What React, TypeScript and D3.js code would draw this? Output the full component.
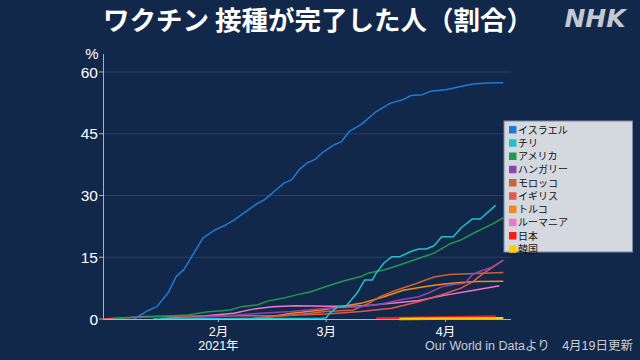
import React from "react";
import * as d3 from "d3";

type Pt = [string, number];

const countries = ["イスラエル", "チリ", "アメリカ", "ハンガリー", "モロッコ", "イギリス", "トルコ", "ルーマニア", "日本", "韓国"];
const colors = ["#1f7bd6", "#1fc2c8", "#1f9a4e", "#8d46b0", "#cc6236", "#e2574f", "#f5891f", "#ef78c6", "#ff1a1a", "#ffcc00"];

const israel: Pt[] = [["2021-01-10",0],["2021-01-14",2.2],["2021-01-16",3],["2021-01-19",6.5],["2021-01-21",10.3],["2021-01-23",12],["2021-01-28",19.7],["2021-01-31",21.6],["2021-02-03",22.9],["2021-02-05",24],["2021-02-08",26],["2021-02-11",28],["2021-02-13",29],["2021-02-16",31.4],["2021-02-18",33],["2021-02-20",33.8],["2021-02-22",36.3],["2021-02-24",37.9],["2021-02-26",38.7],["2021-02-28",40.4],["2021-03-03",42.3],["2021-03-05",43.1],["2021-03-07",45.6],["2021-03-10",47.2],["2021-03-11",48],["2021-03-14",50.4],["2021-03-17",52.1],["2021-03-18",52.5],["2021-03-21",53.3],["2021-03-23",54.3],["2021-03-26",54.5],["2021-03-28",55.3],["2021-04-01",55.7],["2021-04-05",56.5],["2021-04-08",57.1],["2021-04-12",57.3],["2021-04-16",57.4]];
const chile: Pt[] = [["2021-01-15",0],["2021-02-28",0.2],["2021-03-01",0.3],["2021-03-02",1.5],["2021-03-04",3],["2021-03-06",3],["2021-03-09",6.3],["2021-03-11",9.5],["2021-03-13",9.5],["2021-03-14",11.2],["2021-03-16",13.6],["2021-03-18",15.1],["2021-03-20",15.1],["2021-03-23",16.4],["2021-03-25",17],["2021-03-27",17],["2021-03-29",17.8],["2021-03-31",20],["2021-04-03",20],["2021-04-05",22.1],["2021-04-08",24.3],["2021-04-10",24.3],["2021-04-14",27.6]];
const usa: Pt[] = [["2021-01-05",0.1],["2021-01-12",0.4],["2021-01-24",1],["2021-01-29",1.7],["2021-02-04",2.2],["2021-02-07",3],["2021-02-11",3.4],["2021-02-14",4.4],["2021-02-18",5.1],["2021-02-21",5.8],["2021-02-25",6.6],["2021-03-01",7.9],["2021-03-05",9.1],["2021-03-10",10.3],["2021-03-12",11.2],["2021-03-16",11.9],["2021-03-20",13.1],["2021-03-24",14.4],["2021-03-29",16],["2021-04-02",18.2],["2021-04-05",19.2],["2021-04-09",21.2],["2021-04-13",23],["2021-04-16",24.6]];
const hungary: Pt[] = [["2021-01-20",0.1],["2021-02-01",0.6],["2021-02-12",1.4],["2021-02-20",1.8],["2021-03-01",2.6],["2021-03-10",3],["2021-03-15",3.6],["2021-03-20",4.6],["2021-03-25",5.4],["2021-03-28",6.5],["2021-03-31",7.8],["2021-04-03",8.4],["2021-04-06",8.7],["2021-04-08",10.8],["2021-04-10",11.6],["2021-04-13",12.6],["2021-04-16",14.3]];
const morocco: Pt[] = [["2021-02-10",0.2],["2021-02-20",0.9],["2021-03-01",1.8],["2021-03-08",2.2],["2021-03-12",3.8],["2021-03-15",5.4],["2021-03-18",6.6],["2021-03-24",8.5],["2021-03-29",10.2],["2021-04-02",10.8],["2021-04-07",11],["2021-04-16",11.3]];
const uk: Pt[] = [["2021-01-02",0],["2021-01-13",0.6],["2021-01-25",0.7],["2021-02-15",0.8],["2021-03-01",1.2],["2021-03-10",1.8],["2021-03-18",2.6],["2021-03-25",4.2],["2021-04-01",6.2],["2021-04-05",7.5],["2021-04-08",9],["2021-04-11",11.2],["2021-04-14",13],["2021-04-16",14.3]];
const turkey: Pt[] = [["2021-02-13",0.3],["2021-02-20",1.4],["2021-02-28",2.2],["2021-03-06",3.2],["2021-03-10",3.8],["2021-03-16",5.4],["2021-03-21",7],["2021-03-26",7.8],["2021-03-30",8.3],["2021-04-04",8.8],["2021-04-09",9.1],["2021-04-16",9.2]];
const romania: Pt[] = [["2021-01-17",0.1],["2021-01-25",0.5],["2021-02-05",1.4],["2021-02-10",2.4],["2021-02-15",3],["2021-02-21",3.2],["2021-03-01",3.1],["2021-03-08",3.1],["2021-03-13",3.4],["2021-03-20",4],["2021-03-25",4.5],["2021-04-01",5.8],["2021-04-08",6.9],["2021-04-15",8.1]];
const japan: Pt[] = [["2021-03-14",0.1],["2021-03-25",0.3],["2021-04-05",0.4],["2021-04-14",0.6]];
const korea: Pt[] = [["2021-03-20",0],["2021-04-05",0.1],["2021-04-16",0.2]];

const seriesData: Pt[][] = [israel, chile, usa, hungary, morocco, uk, turkey, romania, japan, korea];

const yTicks = [0, 15, 30, 45, 60];
const monthTicks = ["2021-02-01", "2021-03-01", "2021-04-01"];
const monthLabels = ["2月", "3月", "4月"];
const yearLabel = "2021年";
const title = "ワクチン 接種が完了した人（割合）";
const source = "Our World in Dataより　4月19日更新";

const FONT = "'Liberation Sans', 'Noto Sans CJK JP', sans-serif";
const CJK = "'Noto Sans CJK JP', sans-serif";
const parse = d3.timeParse("%Y-%m-%d");

export default function App() {
  const W = 640, H = 360;
  const x = d3.scaleTime().domain([parse("2021-01-02")!, parse("2021-04-18")!]).range([103, 511]);
  const y = d3.scaleLinear().domain([0, 60]).range([319, 72]);
  const line = d3.line<Pt>().x(d => x(parse(d[0])!)).y(d => y(d[1]));
  const order = [7, 6, 5, 4, 3, 2, 1, 0, 8, 9];
  const legendX = 504, legendY = 121, rowH = 13.25;
  return (
    <div style={{ position: "fixed", left: 0, top: 0, width: W, height: H }}>
      <svg width={W} height={H} style={{ display: "block", fontFamily: FONT }}>
        <rect width={W} height={H} fill="#12284a" />
        <text x={318} y={30} textAnchor="middle" fill="#ffffff" fontSize={26.5} fontWeight="bold" fontFamily={CJK}>{title}</text>
        <text x={595} y={27} textAnchor="middle" fill="#c4c8d0" fontSize={25} fontWeight="bold" fontStyle="italic" fontFamily="'DejaVu Sans', sans-serif">NHK</text>
        {yTicks.map(t => (
          <g key={t}>
            {t > 0 && <line x1={103} x2={511} y1={y(t)} y2={y(t)} stroke="#24406a" strokeWidth={1} />}
            <line x1={99} x2={103} y1={y(t)} y2={y(t)} stroke="#a9b2c0" strokeWidth={1} />
            <text x={98} y={y(t) + 5.5} textAnchor="end" fill="#ffffff" fontSize={15.5}>{t}</text>
          </g>
        ))}
        <text x={92} y={59} textAnchor="middle" fill="#ffffff" fontSize={15}>%</text>
        <line x1={103.5} x2={103.5} y1={54} y2={319} stroke="#a9b2c0" strokeWidth={1} />
        {order.map(i => (
          <path key={i} d={line(seriesData[i]) || ""} fill="none" stroke={colors[i]} strokeWidth={i >= 8 ? 2.5 : 1.5} strokeLinejoin="round" />
        ))}
        <line x1={103} x2={511} y1={319.5} y2={319.5} stroke="#a9b2c0" strokeWidth={1.2} />
        {monthTicks.map((m, i) => {
          const px = x(parse(m)!);
          return (
            <g key={m}>
              <line x1={px} x2={px} y1={319} y2={322} stroke="#a9b2c0" />
              <text x={px} y={335.5} textAnchor="middle" fill="#ffffff" fontSize={12.5}>{monthLabels[i]}</text>
            </g>
          );
        })}
        <text x={x(parse(monthTicks[0])!)} y={350} textAnchor="middle" fill="#ffffff" fontSize={12.5}>{yearLabel}</text>
        <text x={633} y={350} textAnchor="end" fill="#c8cdd6" fontSize={12.5}>{source}</text>
        <rect x={legendX} y={legendY} width={128.5} height={131} fill="#d4d8df" stroke="#7d8aa0" strokeWidth={1} />
        {countries.map((c, i) => (
          <g key={c}>
            <rect x={509} y={legendY + 5.5 + i * rowH - 0.5} width={7.5} height={7.5} fill={colors[i]} />
            <text x={518} y={legendY + 12.5 + i * rowH} fill="#111111" fontSize={10}>{c}</text>
          </g>
        ))}
      </svg>
    </div>
  );
}
